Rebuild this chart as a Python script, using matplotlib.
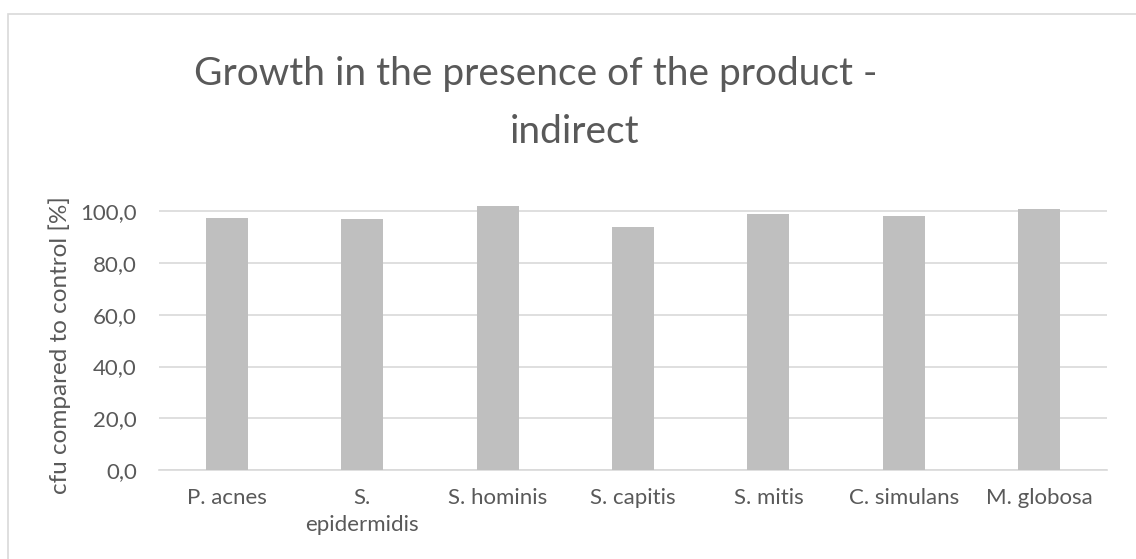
import matplotlib
matplotlib.use("Agg")
import matplotlib.pyplot as plt
from matplotlib.patches import Rectangle
from matplotlib.ticker import FuncFormatter

categories = ["P. acnes", "S.\nepidermidis", "S. hominis", "S. capitis", "S. mitis", "C. simulans", "M. globosa"]
values = [97.4, 97.0, 102.3, 94.1, 99.1, 98.3, 101.0]
yticks = [0, 20, 40, 60, 80, 100]
title_line1 = "Growth in the presence of the product -"
title_line2 = "indirect"
ylabel = "cfu compared to control [%]"

plt.rcParams['font.family'] = ['Lato', 'DejaVu Sans']
text_c = "#595959"

W, H = 1136, 559
fig = plt.figure(figsize=(W/100, H/100), dpi=100)
fig.patches.append(Rectangle((8/W, -0.1), 1.2, 1 - 14/H + 0.1, transform=fig.transFigure,
                             fill=False, edgecolor="#D9D9D9", linewidth=1.2))

ax_top = 185.6
ax = fig.add_axes([159/W, 1 - 470/H, (1107-159)/W, (470-ax_top)/H])
x = list(range(len(categories)))
ax.bar(x, values, width=0.31, color="#BFBFBF", zorder=3)
ax.set_xlim(-0.5, len(categories) - 0.5)
ax.set_ylim(0, 110)
ax.set_yticks(yticks)
ax.yaxis.set_major_formatter(FuncFormatter(lambda v, p: f"{v:.1f}".replace(".", ",")))
ax.set_xticks(x)
ax.set_xticklabels(categories, va="top", linespacing=1.45)
ax.grid(axis="y", color="#D9D9D9", linewidth=1.2, zorder=0)
for s in ["top", "right", "left"]:
    ax.spines[s].set_visible(False)
ax.spines["bottom"].set_color("#D9D9D9")
ax.spines["bottom"].set_linewidth(1.2)
ax.tick_params(axis="both", length=0, labelsize=16, colors=text_c)
ax.tick_params(axis="x", pad=13)
ax.tick_params(axis="y", pad=16)
ax.set_ylabel(ylabel, fontsize=17.5, color=text_c)
# label center at x=60px, y=345px
ax.yaxis.set_label_coords((60 - 159) / (1107 - 159), (470 - 345) / (470 - ax_top))
ax.yaxis.label.set_va("center")

fig.text(536/W, 1 - 85/H, title_line1, ha="center", va="baseline", fontsize=28, color=text_c)
fig.text(575/W, 1 - 143/H, title_line2, ha="center", va="baseline", fontsize=28, color=text_c)

fig.savefig("out.png", dpi=100)
